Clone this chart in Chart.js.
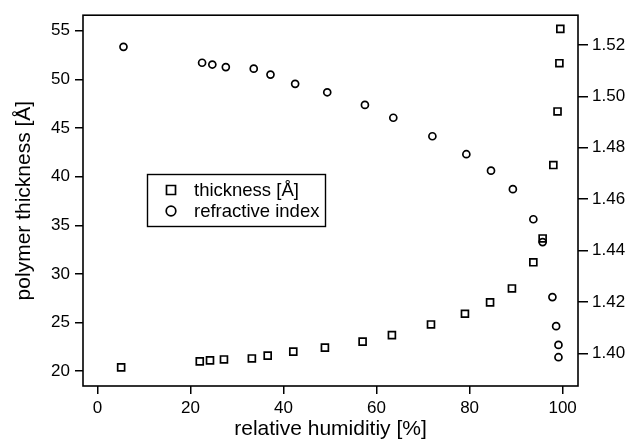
<!DOCTYPE html>
<html>
<head>
<meta charset="utf-8">
<script src="https://cdn.jsdelivr.net/npm/chart.js@4/dist/chart.umd.min.js"></script>
<style>
  html, body { margin: 0; padding: 0; background: #fff; }
  #wrap { width: 631px; height: 447px; position: relative; }
</style>
</head>
<body>
<div id="wrap"><canvas id="chart"></canvas></div>
<script>
// relative humidity [%] for each thickness point
const humidityThk = [5.1, 22.0, 24.2, 27.2, 33.2, 36.6, 42.1, 48.9, 57.0, 63.3, 71.7, 79.0, 84.4, 89.1, 93.7, 95.7, 98.0, 98.9, 99.3, 99.5];
const thickness = [20.38, 21.0, 21.1, 21.2, 21.3, 21.6, 22.0, 22.42, 23.03, 23.7, 24.8, 25.9, 27.07, 28.5, 31.19, 33.64, 41.19, 46.7, 51.66, 55.2];

// relative humidity [%] for each refractive index point
const humidityRi = [5.6, 22.5, 24.7, 27.6, 33.6, 37.2, 42.5, 49.4, 57.5, 63.6, 72.0, 79.3, 84.6, 89.3, 93.7, 95.7, 97.8, 98.6, 99.1, 99.1];
const refractiveIndex = [1.5193, 1.5131, 1.5124, 1.5114, 1.5108, 1.5085, 1.5049, 1.5016, 1.4967, 1.4917, 1.4845, 1.4775, 1.4711, 1.4639, 1.4522, 1.4433, 1.4219, 1.4106, 1.4033, 1.3985];

const seriesLabels = ['thickness [Å]', 'refractive index'];
const xTitle = 'relative humiditiy [%]';
const yTitle = 'polymer thickness [Å]';

Chart.defaults.font.family = '"Liberation Sans", Arial, sans-serif';
Chart.defaults.color = '#000';

// frame round the plot area plus the legend box inside it
const framePlugin = {
    id: 'frame',
    afterDraw(chart) {
        const { ctx, chartArea: a } = chart;
        ctx.save();
        ctx.strokeStyle = '#000';
        ctx.lineWidth = 1.6;
        ctx.strokeRect(a.left, a.top, a.right - a.left, a.bottom - a.top);

        // legend
        ctx.lineWidth = 1.4;
        ctx.strokeRect(147.5, 174.5, 178, 52);
        ctx.font = '18.5px "Liberation Sans", Arial, sans-serif';
        ctx.textBaseline = 'middle';
        ctx.fillStyle = '#000';
        const rows = [190, 211];
        chart.data.datasets.forEach((ds, i) => {
            const y = rows[i];
            ctx.lineWidth = 1.7;
            ctx.beginPath();
            if (ds.pointStyle === 'rect') {
                ctx.rect(171 - 4.5, y - 4.5, 9, 9);
            } else {
                ctx.arc(171, y, 4.8, 0, Math.PI * 2);
            }
            ctx.stroke();
            ctx.fillText(ds.label, 194, y + 1);
        });
        ctx.restore();
    }
};

const ctx = document.getElementById('chart').getContext('2d');
new Chart(ctx, {
    type: 'scatter',
    data: {
        datasets: [{
            label: seriesLabels[0],
            data: humidityThk.map((h, i) => ({ x: h, y: thickness[i] })),
            yAxisID: 'y',
            pointStyle: 'rect',
            pointRadius: 4.9,
            borderColor: '#000',
            backgroundColor: 'rgba(0,0,0,0)',
            borderWidth: 1.7
        }, {
            label: seriesLabels[1],
            data: humidityRi.map((h, i) => ({ x: h, y: refractiveIndex[i] })),
            yAxisID: 'y1',
            pointStyle: 'circle',
            pointRadius: 3.5,
            borderColor: '#000',
            backgroundColor: 'rgba(0,0,0,0)',
            borderWidth: 1.7
        }]
    },
    options: {
        responsive: true,
        maintainAspectRatio: false,
        animation: false,
        layout: { padding: { top: 12, left: 0, right: 0, bottom: 0 } },
        plugins: {
            legend: { display: false },
            tooltip: { enabled: false }
        },
        scales: {
            x: {
                type: 'linear',
                position: 'bottom',
                min: -3.1,
                max: 103.3,
                border: { display: false },
                grid: { drawOnChartArea: false, drawTicks: true, tickLength: 8, color: '#000', lineWidth: 1.5 },
                ticks: { stepSize: 20, includeBounds: false, padding: 4, font: { size: 17 }, maxRotation: 0 },
                title: { display: true, text: xTitle, font: { size: 21 }, padding: { top: 0, bottom: 5 } },
                afterFit(scale) { scale.height = 61; }
            },
            y: {
                type: 'linear',
                position: 'left',
                min: 18.47,
                max: 56.6,
                border: { display: false },
                grid: { drawOnChartArea: false, drawTicks: true, tickLength: 8, color: '#000', lineWidth: 1.5 },
                ticks: { stepSize: 5, includeBounds: false, padding: 5, font: { size: 17 } },
                title: { display: true, text: yTitle, font: { size: 21 }, padding: { top: 12, bottom: 0 } },
                afterFit(scale) { scale.width = 83; }
            },
            y1: {
                type: 'linear',
                position: 'right',
                min: 1.3873,
                max: 1.5316,
                border: { display: false },
                grid: { drawOnChartArea: false, drawTicks: true, tickLength: 10, color: '#000', lineWidth: 1.5 },
                ticks: {
                    stepSize: 0.02,
                    includeBounds: false,
                    padding: 4,
                    font: { size: 17 },
                    callback: v => v.toFixed(2)
                },
                afterFit(scale) { scale.width = 53; }
            }
        }
    },
    plugins: [framePlugin]
});
</script>
</body>
</html>
